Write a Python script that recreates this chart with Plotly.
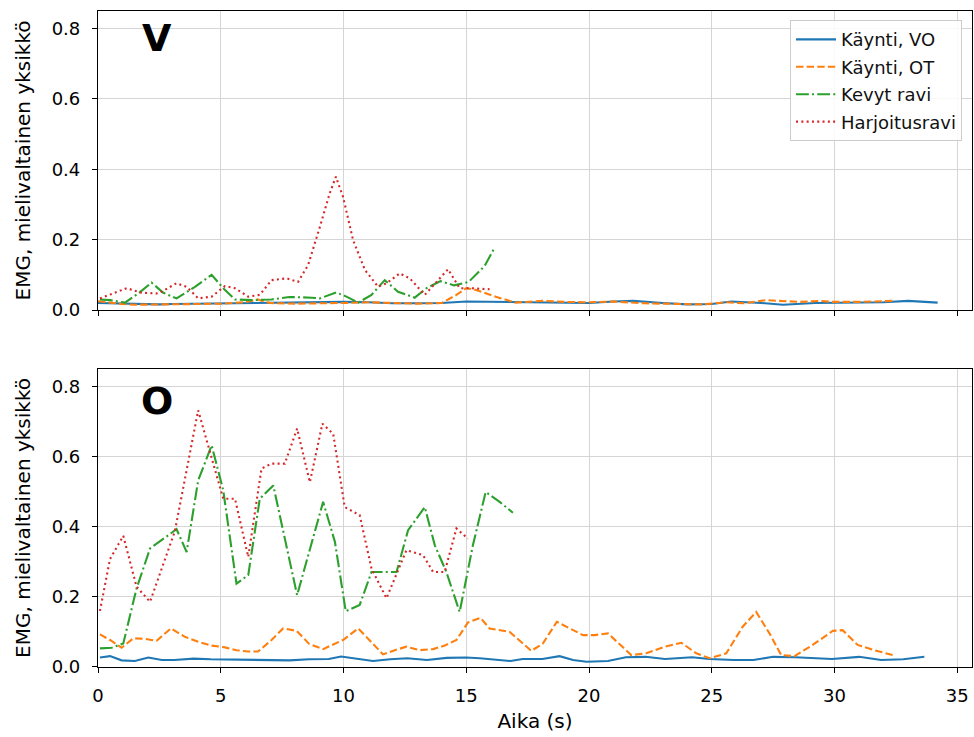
import plotly.graph_objects as go

# ---- V panel (upper) ----
v_vo_t = [0, 0.5, 1, 1.5, 2, 2.5, 3, 4, 5, 6, 7, 8, 9, 10, 11, 12, 13, 14, 15, 16, 17, 18, 19,
          20, 21, 21.8, 23, 24, 25, 25.8, 27, 27.9, 29.2, 30, 31.2, 32, 33, 34.2]
v_vo = [0.02, 0.019, 0.017, 0.016, 0.015, 0.016, 0.017, 0.018, 0.018, 0.018, 0.019, 0.02, 0.021,
        0.023, 0.022, 0.019, 0.019, 0.02, 0.024, 0.023, 0.021, 0.02, 0.021, 0.02, 0.024, 0.026,
        0.02, 0.016, 0.017, 0.024, 0.02, 0.015, 0.02, 0.021, 0.021, 0.022, 0.026, 0.021]

v_ot_t = [0, 0.5, 1, 1.5, 2, 3, 4, 5, 6, 6.5, 7, 8, 9, 10, 11, 12, 13, 14, 14.6, 15, 15.4, 16.2,
          17, 18.1, 19, 20, 21, 22.3, 23.3, 24.6, 25.6, 26.3, 27.2, 27.8, 28.6, 29.4, 29.9, 31, 32.4]
v_ot = [0.025, 0.02, 0.017, 0.015, 0.015, 0.016, 0.017, 0.018, 0.022, 0.03, 0.02, 0.018, 0.018,
        0.02, 0.022, 0.02, 0.018, 0.02, 0.043, 0.062, 0.057, 0.038, 0.021, 0.026, 0.023, 0.022,
        0.024, 0.019, 0.017, 0.016, 0.022, 0.019, 0.028, 0.026, 0.023, 0.026, 0.023, 0.023, 0.026]

v_kr_t = [0.08, 0.5, 1.1, 1.64, 2.18, 2.66, 3.2, 3.95, 4.63, 5.1, 5.58, 6.25, 7.07, 7.8, 8.7,
          9.04, 9.7, 10.12, 10.6, 11.14, 11.68, 12.22, 12.9, 13.38, 13.95, 14.5, 15.1, 15.75, 16.16]
v_kr = [0.03, 0.028, 0.021, 0.047, 0.078, 0.049, 0.033, 0.066, 0.1, 0.062, 0.03, 0.028, 0.03,
        0.037, 0.035, 0.033, 0.05, 0.038, 0.021, 0.043, 0.085, 0.052, 0.035, 0.062, 0.082, 0.07,
        0.08, 0.125, 0.178]

v_hr_t = [0.08, 0.62, 1.17, 1.78, 2.46, 3.2, 3.61, 4.08, 4.63, 5.17, 5.58, 6.12, 6.59, 7.07,
          7.68, 8.15, 8.56, 9.04, 9.44, 9.69, 9.98, 10.39, 10.87, 11.41, 11.75, 12.29, 12.7,
          13.31, 13.85, 14.26, 14.73, 15.14, 15.95]
v_hr = [0.033, 0.047, 0.062, 0.049, 0.047, 0.076, 0.066, 0.033, 0.038, 0.068, 0.062, 0.038,
        0.043, 0.085, 0.09, 0.08, 0.128, 0.237, 0.332, 0.379, 0.322, 0.199, 0.114, 0.066, 0.076,
        0.104, 0.09, 0.043, 0.085, 0.116, 0.062, 0.062, 0.059]

# ---- O panel (lower) ----
o_vo_t = [0.08, 0.49, 0.96, 1.5, 2.05, 2.6, 3.1, 3.9, 4.6, 5.4, 6.2, 7.0, 7.8, 8.6, 9.4, 9.9,
          10.6, 11.2, 11.9, 12.6, 13.4, 14.2, 15.0, 15.55, 16.8, 17.3, 18.1, 18.8, 19.35, 19.9,
          20.77, 21.5, 22.3, 23.1, 24.2, 24.9, 25.9, 26.7, 27.5, 28.4, 29.9, 31.0, 31.9, 32.8, 33.66]
o_vo = [0.027, 0.031, 0.019, 0.017, 0.027, 0.02, 0.02, 0.024, 0.022, 0.021, 0.02, 0.021, 0.019,
        0.022, 0.023, 0.03, 0.024, 0.017, 0.022, 0.025, 0.02, 0.026, 0.027, 0.025, 0.017, 0.023,
        0.023, 0.031, 0.02, 0.015, 0.017, 0.028, 0.029, 0.023, 0.028, 0.023, 0.02, 0.02, 0.029,
        0.028, 0.023, 0.029, 0.02, 0.022, 0.029]

o_ot_t = [0.08, 0.49, 0.96, 1.44, 1.91, 2.39, 2.97, 3.54, 4.08, 4.63, 5.17, 5.64, 6.12, 6.52,
          7.07, 7.54, 8.09, 8.6, 9.17, 9.98, 10.6, 11.14, 11.61, 12.09, 12.56, 13.1, 13.65,
          14.12, 14.6, 15.07, 15.58, 15.95, 16.36, 16.77, 17.65, 18.12, 18.69, 19.21, 19.75,
          20.23, 20.77, 21.72, 22.33, 23.08, 23.76, 24.37, 24.91, 25.59, 26.26, 26.81, 27.35,
          27.83, 28.37, 29.11, 29.93, 30.33, 30.94, 31.62, 32.37]
o_ot = [0.093, 0.077, 0.055, 0.082, 0.08, 0.075, 0.11, 0.086, 0.072, 0.061, 0.056, 0.048, 0.044,
        0.044, 0.077, 0.11, 0.103, 0.066, 0.051, 0.077, 0.11, 0.072, 0.036, 0.048, 0.058, 0.048,
        0.051, 0.061, 0.077, 0.127, 0.14, 0.11, 0.105, 0.1, 0.046, 0.067, 0.129, 0.11, 0.091,
        0.091, 0.096, 0.034, 0.039, 0.058, 0.069, 0.039, 0.025, 0.039, 0.115, 0.157, 0.096,
        0.034, 0.031, 0.063, 0.103, 0.105, 0.063, 0.048, 0.034]

o_kr_t = [0.08, 0.56, 1.03, 1.57, 2.12, 2.59, 3.2, 3.61, 4.08, 4.63, 5.1, 5.64, 6.12, 6.59,
          7.14, 8.11, 9.17, 9.65, 10.09, 10.66, 11.14, 11.68, 12.16, 12.63, 13.31, 13.72, 14.19,
          14.73, 15.27, 15.79, 16.36, 16.9]
o_kr = [0.053, 0.055, 0.067, 0.224, 0.338, 0.362, 0.393, 0.328, 0.532, 0.632, 0.504, 0.238,
        0.262, 0.48, 0.518, 0.205, 0.471, 0.357, 0.159, 0.177, 0.271, 0.271, 0.271, 0.39, 0.456,
        0.347, 0.271, 0.157, 0.347, 0.499, 0.471, 0.44]

o_hr_t = [0.08, 0.49, 1.03, 1.57, 2.12, 3.13, 4.08, 4.56, 5.1, 5.58, 6.12, 6.66, 7.07, 7.61,
          8.11, 8.63, 9.14, 9.58, 10.05, 10.66, 11.14, 11.75, 12.56, 13.24, 13.65, 14.12, 14.6,
          15.07]
o_hr = [0.16, 0.308, 0.374, 0.229, 0.186, 0.387, 0.732, 0.613, 0.48, 0.48, 0.314, 0.566, 0.58,
        0.58, 0.68, 0.527, 0.694, 0.665, 0.456, 0.433, 0.281, 0.196, 0.333, 0.319, 0.271, 0.271,
        0.395, 0.366]

names = ["Käynti, VO", "Käynti, OT", "Kevyt ravi", "Harjoitusravi"]
colors = ["#1f77b4", "#ff7f0e", "#2ca02c", "#d62728"]
# solid, dashed, dash-dot and dotted patterns
dashes = ["solid", "7.4px,3.2px", "12.8px,3.2px,2px,3.2px", "2px,3.3px"]

x_ticks = [0, 5, 10, 15, 20, 25, 30, 35]
y_ticks = [0.0, 0.2, 0.4, 0.6, 0.8]
y_tick_text = ["0.0", "0.2", "0.4", "0.6", "0.8"]

FONT = "DejaVu Sans"
TICK_SIZE = 18
LABEL_SIZE = 20
LEGEND_SIZE = 18

fig = go.Figure()

panels = [
    ("x", "y", [(v_vo_t, v_vo), (v_ot_t, v_ot), (v_kr_t, v_kr), (v_hr_t, v_hr)], True),
    ("x2", "y2", [(o_vo_t, o_vo), (o_ot_t, o_ot), (o_kr_t, o_kr), (o_hr_t, o_hr)], False),
]
for xa, ya, series, show in panels:
    for i, (t, v) in enumerate(series):
        fig.add_trace(go.Scatter(
            x=t, y=v, mode="lines", name=names[i], xaxis=xa, yaxis=ya,
            line=dict(color=colors[i], width=2.1, dash=dashes[i]),
            showlegend=show, legendgroup=names[i],
        ))

axis_common = dict(
    range=[0, 35.6], tickvals=x_ticks, showgrid=True, gridcolor="#d5d5d5", gridwidth=1,
    showline=True, linecolor="black", linewidth=1.2, mirror=True,
    ticks="outside", ticklen=5, tickcolor="black", zeroline=False,
    ticklabelstandoff=7,
    tickfont=dict(family=FONT, size=TICK_SIZE, color="black"),
)
yaxis_common = dict(
    range=[0, 0.85], tickvals=y_ticks, ticktext=y_tick_text, showgrid=True,
    gridcolor="#d5d5d5", gridwidth=1, showline=True, linecolor="black", linewidth=1.2,
    mirror=True, ticks="outside", ticklen=5, tickcolor="black", zeroline=False,
    ticklabelstandoff=8,
    tickfont=dict(family=FONT, size=TICK_SIZE, color="black"),
    title=dict(text="EMG, mielivaltainen yksikkö",
               font=dict(family=FONT, size=LABEL_SIZE, color="black"), standoff=15),
)

fig.update_layout(
    width=974, height=737,
    margin=dict(l=98, r=2, t=11, b=70),
    paper_bgcolor="white", plot_bgcolor="white",
    font=dict(family=FONT, size=TICK_SIZE, color="black"),
    xaxis=dict(axis_common, anchor="y", domain=[0, 1], showticklabels=False),
    yaxis=dict(yaxis_common, anchor="x", domain=[0.5442, 1]),
    xaxis2=dict(axis_common, anchor="y2", domain=[0, 1],
                title=dict(text="Aika (s)",
                           font=dict(family=FONT, size=LABEL_SIZE, color="black"),
                           standoff=9)),
    yaxis2=dict(yaxis_common, anchor="x2", domain=[0, 0.4543]),
    legend=dict(
        x=0.9886, y=0.986, xanchor="right", yanchor="top",
        bgcolor="rgba(255,255,255,0.85)", bordercolor="#cccccc", borderwidth=1,
        font=dict(family=FONT, size=LEGEND_SIZE, color="#111111"),
        traceorder="grouped", tracegroupgap=1, itemwidth=40,
    ),
    annotations=[
        dict(text="<b>V</b>", x=2.4, y=0.772, xref="x", yref="y", showarrow=False,
             font=dict(family=FONT, size=38, color="black"), xanchor="center", yanchor="middle"),
        dict(text="<b>O</b>", x=2.4, y=0.76, xref="x2", yref="y2", showarrow=False,
             font=dict(family=FONT, size=38, color="black"), xanchor="center", yanchor="middle"),
    ],
)

fig.write_html("out.html")
